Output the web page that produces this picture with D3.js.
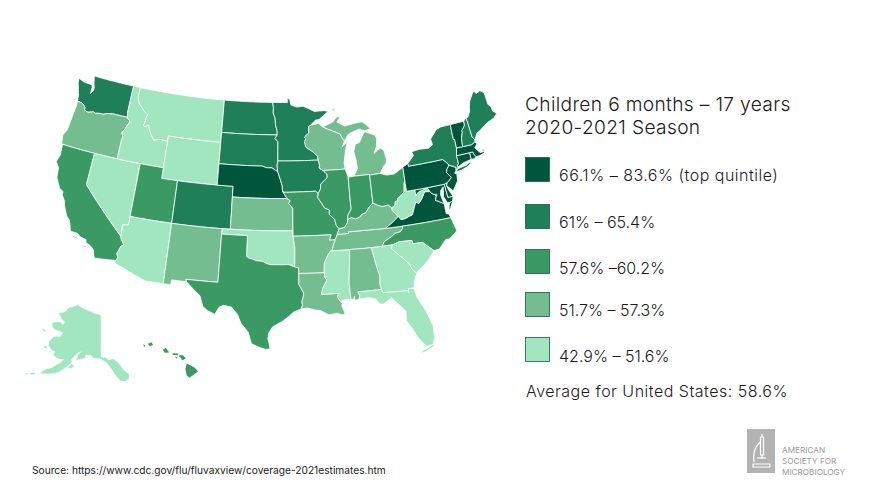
<!DOCTYPE html>
<html lang="en">
<head>
<meta charset="UTF-8">
<title>Children 6 months - 17 years, 2020-2021 Season</title>
<script src="https://d3js.org/d3.v7.min.js"></script>
<style>
  html, body { margin: 0; background: #fff; }
  text { font-family: Inter, "Open Sans", sans-serif; font-weight: 300; fill: #1a1a1a; }
  .state { stroke: #fff; stroke-linejoin: round; }
</style>
</head>
<body>
<svg id="chart" width="874" height="492"></svg>
<script>
const titleLines = ["Children 6 months – 17 years", "2020-2021 Season"];
const binLabels = ["66.1% – 83.6% (top quintile)", "61% – 65.4%", "57.6% –60.2%", "51.7% – 57.3%", "42.9% – 51.6%"];
const binColors = ["#00563a", "#1f7f58", "#3b9a63", "#74bd90", "#a1e6be"];
const averageLabel = "Average for United States: 58.6%";
const sourceLabel = "Source: https://www.cdc.gov/flu/fluvaxview/coverage-2021estimates.htm";
const logoLines = ["AMERICAN", "SOCIETY FOR", "MICROBIOLOGY"];

// quintile bin per state, 0 = top
const stateBins = {
  NE:0,PA:0,VA:0,NJ:0,MD:0,DE:0,DC:0,VT:0,MA:0,CT:0,RI:0,
  WA:1,ND:1,SD:1,MN:1,IA:1,CO:1,NY:1,ME:1,NH:1,
  CA:2,UT:2,TX:2,MO:2,IL:2,IN:2,OH:2,NC:2,HI:2,
  OR:3,WI:3,MI:3,KS:3,NM:3,AR:3,LA:3,KY:3,TN:3,AL:3,
  ID:4,MT:4,WY:4,NV:4,AZ:4,OK:4,MS:4,GA:4,SC:4,FL:4,AK:4,WV:4
};

// simplified state outlines, "lon,lat" rings
const stateShapes = {
  WA:["-124.73,48.38 -123.9,48.17 -123.1,48.15 -122.75,48.15 -122.6,47.9 -122.6,47.3 -122.35,47.6 -122.3,47.9 -122.5,48.3 -122.76,49 -117.03,49 -117.04,46.42 -116.92,46 -118.98,46 -119.3,45.93 -119.6,45.92 -120.2,45.73 -120.65,45.74 -121.2,45.65 -121.5,45.72 -122.25,45.55 -122.75,45.65 -122.8,45.9 -123.15,46.15 -123.43,46.23 -124,46.27 -124.07,46.65 -124.1,46.9 -124.2,47 -124.35,47.35 -124.62,47.88"],
  OR:["-124,46.27 -123.43,46.23 -123.15,46.15 -122.8,45.9 -122.75,45.65 -122.25,45.55 -121.5,45.72 -121.2,45.65 -120.65,45.74 -120.2,45.73 -119.6,45.92 -119.3,45.93 -118.98,46 -116.92,46 -116.78,45.85 -116.55,45.75 -116.46,45.6 -116.67,45.32 -116.85,44.95 -117.2,44.45 -117.03,44.25 -116.95,44.1 -117.03,43.8 -117.03,42 -124.21,42 -124.36,42.1 -124.55,42.84 -124.2,43.4 -124.1,44.3 -124.05,45 -123.95,45.9"],
  CA:["-124.21,42 -120,42 -120,39 -114.63,35 -114.57,34.8 -114.14,34.3 -114.43,34.1 -114.72,33.4 -114.53,33 -114.72,32.72 -117.12,32.53 -117.25,32.85 -117.4,33.25 -117.9,33.6 -118.4,33.75 -118.5,34.03 -119.2,34.15 -119.6,34.4 -120.47,34.45 -120.63,34.9 -120.9,35.4 -121.3,35.7 -121.9,36.6 -122,36.95 -122.5,37.5 -122.5,37.8 -123,38 -123.7,38.9 -123.85,39.8 -124.35,40.3 -124.1,41 -124.2,41.75",
      "-120.05,34.05 -119.55,34.08 -119.52,33.97 -120.1,33.92", "-118.6,33.48 -118.35,33.42 -118.3,33.3 -118.5,33.33", "-118.6,33.05 -118.4,32.88 -118.33,32.82 -118.5,32.95"],
  NV:["-120,42 -114.04,42 -114.04,36.2 -114.75,36.1 -114.7,35.85 -114.63,35 -120,39"],
  ID:["-117.03,42 -111.05,42 -111.05,44.48 -111.5,44.55 -112.3,44.55 -112.85,44.37 -113.45,44.95 -113.95,45.7 -114.35,45.45 -114.55,45.56 -114.33,46.65 -114.9,46.9 -115.3,47.25 -115.7,47.45 -116.05,48 -116.05,49 -117.03,49 -117.04,46.42 -116.92,46 -116.78,45.85 -116.55,45.75 -116.46,45.6 -116.67,45.32 -116.85,44.95 -117.2,44.45 -117.03,44.25 -116.95,44.1 -117.03,43.8"],
  MT:["-116.05,49 -104.05,49 -104.05,45 -111.05,45 -111.05,44.48 -111.5,44.55 -112.3,44.55 -112.85,44.37 -113.45,44.95 -113.95,45.7 -114.35,45.45 -114.55,45.56 -114.33,46.65 -114.9,46.9 -115.3,47.25 -115.7,47.45 -116.05,48"],
  WY:["-111.05,45 -104.05,45 -104.05,41 -111.05,41"],
  UT:["-114.04,42 -111.05,42 -111.05,41 -109.05,41 -109.05,37 -114.04,37"],
  AZ:["-114.04,37 -109.05,37 -109.05,31.33 -111.07,31.33 -114.81,32.5 -114.72,32.72 -114.53,33 -114.72,33.4 -114.43,34.1 -114.14,34.3 -114.57,34.8 -114.63,35 -114.7,35.85 -114.75,36.1 -114.04,36.2"],
  CO:["-109.05,41 -102.05,41 -102.05,37 -109.05,37"],
  NM:["-109.05,37 -103,37 -103.04,36.5 -103.06,32 -106.62,32 -106.53,31.78 -108.21,31.78 -108.21,31.33 -109.05,31.33"],
  ND:["-104.05,49 -97.23,49 -97.1,48.5 -97.13,48 -96.85,47.5 -96.8,46.9 -96.56,46.3 -96.56,45.94 -104.05,45.94"],
  SD:["-104.05,45.94 -96.56,45.94 -96.85,45.6 -96.45,45.3 -96.45,43.5 -96.55,43.1 -96.45,42.49 -96.7,42.6 -97.2,42.85 -97.85,42.85 -98.5,43 -104.05,43"],
  NE:["-104.05,43 -98.5,43 -97.85,42.85 -97.2,42.85 -96.7,42.6 -96.45,42.49 -96.1,41.7 -95.9,41.2 -95.85,40.7 -95.31,40 -102.05,40 -102.05,41 -104.05,41"],
  KS:["-102.05,40 -95.31,40 -94.9,39.8 -95.1,39.55 -94.61,39.1 -94.62,37 -102.05,37"],
  OK:["-103,37 -94.62,37 -94.62,36.5 -94.43,35.4 -94.48,33.64 -95.2,33.87 -95.8,33.85 -96.6,33.85 -97.2,33.85 -97.7,33.95 -98.1,34.13 -98.9,34.2 -99.2,34.3 -99.7,34.4 -100,34.56 -100,36.5 -103.04,36.5"],
  TX:["-103.04,36.5 -100,36.5 -100,34.56 -99.7,34.4 -99.2,34.3 -98.9,34.2 -98.1,34.13 -97.7,33.95 -97.2,33.85 -96.6,33.85 -95.8,33.85 -95.2,33.87 -94.48,33.64 -94.04,33.55 -94.04,33.02 -94.04,31.99 -93.55,31.2 -93.55,31 -93.75,30.4 -93.7,30.05 -93.85,29.7 -94.7,29.4 -95.2,29 -96,28.5 -96.9,28.05 -97.3,27.5 -97.4,26.9 -97.15,25.96 -97.6,25.9 -98.2,26.05 -99.1,26.4 -99.5,27.5 -100.3,28.3 -100.7,29.1 -101.4,29.77 -102.3,29.88 -102.7,29.7 -103.15,28.98 -104,29.3 -104.5,29.65 -104.9,30.6 -105.6,31.08 -106.53,31.78 -106.62,32 -103.06,32"],
  MN:["-97.23,49 -95.15,49 -95.15,49.38 -94.82,49.32 -94.65,48.75 -93.8,48.55 -92.95,48.62 -92,48.3 -91.4,48.07 -90.75,48.1 -90,48.1 -89.5,48 -90.8,47.3 -91.3,47.25 -92.1,46.75 -92.29,46.66 -92.29,46.08 -92.9,45.7 -92.75,45.55 -92.88,45.2 -92.75,44.75 -91.95,44.35 -91.25,43.85 -91.22,43.5 -96.45,43.5 -96.45,45.3 -96.85,45.6 -96.56,45.94 -96.56,46.3 -96.8,46.9 -96.85,47.5 -97.13,48 -97.1,48.5"],
  IA:["-96.45,43.5 -91.22,43.5 -91.05,43 -91.15,42.75 -90.65,42.5 -90.15,42.1 -90.2,41.8 -91.05,41.25 -91.1,40.8 -91.42,40.38 -91.73,40.61 -95.77,40.58 -95.85,40.7 -95.9,41.2 -96.1,41.7 -96.45,42.49 -96.55,43.1"],
  MO:["-95.77,40.58 -91.73,40.61 -91.42,40.38 -91.5,40 -91,39.4 -90.7,39 -90.15,38.8 -90.2,38.4 -89.6,37.9 -89.45,37.35 -89.15,37 -89.4,36.5 -89.7,36 -90.37,36 -90.15,36.5 -94.62,36.5 -94.62,37 -94.61,39.1 -95.1,39.55 -94.9,39.8 -95.31,40 -95.85,40.7"],
  AR:["-94.62,36.5 -90.15,36.5 -90.37,36 -89.7,36 -89.95,35.5 -90.07,35.13 -90.3,35 -90.6,34.7 -91.1,33.9 -91.17,33 -94.04,33.02 -94.04,33.55 -94.48,33.64 -94.43,35.4"],
  LA:["-94.04,33.02 -91.17,33 -91.1,32.5 -90.9,32.3 -91.4,31.6 -91.6,31 -89.73,31 -89.85,30.65 -89.55,30.2 -89.4,30.05 -89.45,29.8 -89.15,29.05 -89.4,28.95 -90,29.15 -90.9,29.05 -91.8,29.5 -92.3,29.55 -93.2,29.77 -93.85,29.7 -93.7,30.05 -93.75,30.4 -93.55,31 -93.55,31.2 -94.04,31.99"],
  MS:["-90.3,35 -88.2,35 -88.1,34.9 -88.47,31.9 -88.4,30.35 -89,30.4 -89.55,30.2 -89.85,30.65 -89.73,31 -91.6,31 -91.4,31.6 -90.9,32.3 -91.1,32.5 -91.17,33 -91.1,33.9 -90.6,34.7"],
  TN:["-90.3,35 -90.07,35.13 -89.95,35.5 -89.7,36 -89.4,36.5 -88.07,36.5 -88.07,36.65 -86.5,36.65 -83.68,36.6 -81.68,36.59 -81.7,36.35 -82,36.1 -82.6,36.03 -83.1,35.77 -84,35.4 -84.32,34.99 -85.6,34.98 -88.2,35"],
  KY:["-89.4,36.5 -89.15,37 -88.5,37.1 -88.1,37.5 -88.03,37.8 -87.6,37.95 -87.1,37.8 -86.6,37.9 -86.3,38.15 -85.8,38.27 -85.4,38.7 -84.8,39.1 -84.3,38.85 -83.7,38.65 -83,38.73 -82.6,38.42 -82.6,38.17 -82,37.55 -81.97,37.54 -82.7,37.1 -83.68,36.6 -86.5,36.65 -88.07,36.65 -88.07,36.5"],
  VA:["-83.68,36.6 -81.68,36.59 -75.87,36.55 -76,36.92 -76.3,37 -76.3,37.55 -76.3,37.95 -76.95,38.3 -77.25,38.4 -77.05,38.8 -77.12,38.93 -77.5,39.1 -77.72,39.32 -78.35,39.4 -78.87,38.77 -79.3,38.42 -79.65,38.6 -80.3,37.5 -81.2,37.25 -81.68,37.2 -81.97,37.54 -82.7,37.1",
      "-75.95,37.15 -75.65,37.95 -75.25,38.03 -75.6,37.5"],
  WV:["-82.6,38.42 -82.2,38.6 -82.1,38.95 -81.75,39 -81.75,39.2 -81.4,39.35 -80.85,39.7 -80.65,40.6 -80.52,40.64 -80.52,39.72 -79.48,39.72 -79.48,39.2 -79.1,39.47 -78.45,39.6 -78.2,39.68 -77.85,39.6 -77.72,39.32 -78.35,39.4 -78.87,38.77 -79.3,38.42 -79.65,38.6 -80.3,37.5 -81.2,37.25 -81.68,37.2 -81.97,37.54 -82,37.55 -82.6,38.17"],
  MD:["-79.48,39.72 -75.79,39.72 -75.7,38.46 -75.05,38.45 -75.25,38.03 -75.65,37.95 -75.9,38 -76.2,38.6 -76.1,39 -76,39.5 -76.4,39.2 -76.5,38.8 -76.4,38.3 -76.3,37.95 -76.95,38.3 -77.25,38.4 -77.05,38.8 -77.12,38.93 -77.5,39.1 -77.72,39.32 -77.85,39.6 -78.2,39.68 -78.45,39.6 -79.1,39.47 -79.48,39.2"],
  DE:["-75.79,39.72 -75.42,39.8 -75.55,39.5 -75.4,39.05 -75.05,38.45 -75.7,38.46"],
  DC:["-77.12,38.93 -77.04,39 -76.91,38.89 -77.04,38.79"],
  PA:["-80.52,41.98 -79.76,42.27 -79.76,42 -75.35,42 -75.05,41.75 -74.7,41.36 -75.13,40.97 -75.2,40.7 -74.75,40.2 -75.1,39.95 -75.42,39.8 -75.79,39.72 -80.52,39.72"],
  NJ:["-74.7,41.36 -73.9,41 -74.05,40.65 -74.25,40.5 -74,40.45 -74.1,39.75 -74.9,38.93 -75.15,39.2 -75.55,39.5 -75.42,39.8 -75.1,39.95 -74.75,40.2 -75.2,40.7 -75.13,40.97"],
  NY:["-79.76,42.27 -78.9,42.9 -79.05,43.27 -78,43.37 -76.8,43.3 -76.2,43.55 -76.3,44.1 -75.3,44.85 -74.7,45 -73.35,45.01 -73.4,44 -73.4,43.6 -73.25,43.55 -73.28,42.75 -73.5,42.05 -73.5,41.3 -73.73,41.1 -73.65,41 -73.8,40.8 -73.95,40.75 -73.9,41 -74.7,41.36 -75.05,41.75 -75.35,42 -79.76,42",
      "-74.03,40.6 -73.75,40.85 -72.6,40.98 -72.2,41.13 -71.87,41.07 -72.5,40.82 -73.3,40.63"],
  CT:["-73.5,42.05 -71.8,42.02 -71.8,41.4 -72.9,41.25 -73.65,41 -73.73,41.1 -73.5,41.3"],
  RI:["-71.8,42.02 -71.38,42.02 -71.33,41.8 -71.12,41.5 -71.5,41.37 -71.8,41.4"],
  MA:["-73.5,42.05 -73.28,42.75 -72.46,42.73 -71.3,42.7 -70.8,42.87 -70.6,42.65 -71,42.35 -70.7,42 -70.5,41.78 -70,41.78 -70.25,42.07 -69.95,41.95 -69.97,41.65 -70.65,41.53 -71.12,41.5 -71.33,41.8 -71.38,42.02"],
  VT:["-73.35,45.01 -71.5,45.01 -71.55,44.6 -72.05,44.2 -72.05,44.05 -72.35,43.5 -72.46,42.73 -73.28,42.75 -73.25,43.55 -73.4,43.6 -73.4,44"],
  NH:["-71.5,45.01 -71.08,45.3 -71.03,44.65 -70.98,43.4 -70.7,43.07 -70.8,42.87 -71.3,42.7 -72.46,42.73 -72.35,43.5 -72.05,44.05 -72.05,44.2 -71.55,44.6"],
  ME:["-71.08,45.3 -70.85,45.25 -70.4,45.75 -70.25,46.2 -70,46.7 -69.23,47.45 -69.05,47.43 -68.9,47.2 -68.3,47.35 -67.8,47.07 -67.78,45.9 -67.45,45.6 -67.45,45.2 -67,44.85 -67.6,44.5 -68.5,44.3 -69,44.1 -69.8,43.75 -70.25,43.6 -70.7,43.07 -70.98,43.4 -71.03,44.65"],
  MI:["-86.82,41.76 -84.8,41.76 -84.8,41.7 -83.45,41.73 -83.15,42.05 -82.9,42.35 -82.5,42.6 -82.42,43 -82.6,43.85 -83,44.07 -83.3,43.95 -83.9,43.65 -83.45,44.3 -83.3,45 -83.5,45.35 -84.75,45.78 -85,45.6 -85.5,45 -85.6,44.85 -86.2,44.7 -86.5,44.05 -86.3,43.2 -86.25,42.4",
      "-90.42,46.57 -89,46.95 -88.4,47.4 -87.8,47.45 -88.4,46.95 -87.4,46.5 -86.2,46.65 -85,46.75 -84.5,46.45 -84,46 -84.75,45.87 -85.5,46.08 -86.5,45.85 -87,45.7 -87.6,45.1 -87.85,45.35 -88.1,45.8 -89.1,46.13",
      "-89.2,48 -88.45,48.3 -88.6,48.05"],
  WI:["-92.1,46.75 -90.9,46.95 -90.42,46.57 -89.1,46.13 -88.1,45.8 -87.85,45.35 -87.6,45.1 -88,44.55 -87.4,44.9 -87.1,45.25 -87.5,44.4 -87.75,43.6 -87.9,43 -87.8,42.49 -90.65,42.5 -91.15,42.75 -91.05,43 -91.22,43.5 -91.25,43.85 -91.95,44.35 -92.75,44.75 -92.88,45.2 -92.75,45.55 -92.9,45.7 -92.29,46.08 -92.29,46.66"],
  IL:["-90.65,42.5 -87.8,42.49 -87.53,41.7 -87.53,39.35 -87.5,38.75 -87.95,38.2 -88.03,37.8 -88.1,37.5 -88.5,37.1 -89.15,37 -89.45,37.35 -89.6,37.9 -90.2,38.4 -90.15,38.8 -90.7,39 -91,39.4 -91.5,40 -91.42,40.38 -91.1,40.8 -91.05,41.25 -90.2,41.8 -90.15,42.1"],
  IN:["-87.53,41.7 -86.82,41.76 -84.8,41.76 -84.8,39.1 -85.4,38.7 -85.8,38.27 -86.3,38.15 -86.6,37.9 -87.1,37.8 -87.6,37.95 -88.03,37.8 -87.95,38.2 -87.5,38.75 -87.53,39.35"],
  OH:["-84.8,41.7 -83.45,41.73 -82.7,41.5 -81.7,41.5 -80.52,41.98 -80.52,40.64 -80.65,40.6 -80.85,39.7 -81.4,39.35 -81.75,39.2 -81.75,39 -82.1,38.95 -82.2,38.6 -82.6,38.42 -83,38.73 -83.7,38.65 -84.3,38.85 -84.8,39.1"],
  NC:["-81.68,36.59 -75.87,36.55 -75.5,35.25 -76.5,34.65 -77,34.65 -77.9,33.9 -78.55,33.86 -79.67,34.8 -80.8,34.82 -80.8,35.1 -81.05,35.15 -82.3,35.2 -83.1,35 -84.32,34.99 -84,35.4 -83.1,35.77 -82.6,36.03 -82,36.1 -81.7,36.35"],
  SC:["-83.1,35 -82.3,35.2 -81.05,35.15 -80.8,35.1 -80.8,34.82 -79.67,34.8 -78.55,33.86 -79.2,33.2 -79.9,32.7 -80.7,32.25 -80.87,32.03 -81.4,32.6 -81.5,33 -82,33.5 -82.6,34 -83.35,34.7"],
  GA:["-85.6,34.98 -84.32,34.99 -83.1,35 -83.35,34.7 -82.6,34 -82,33.5 -81.5,33 -81.4,32.6 -80.87,32.03 -81.2,31.5 -81.45,30.72 -82.05,30.75 -82.05,30.36 -82.2,30.57 -84.86,30.7 -85,31 -85.1,31.55 -85,32.3 -85.18,32.87"],
  AL:["-88.2,35 -85.6,34.98 -85.18,32.87 -85,32.3 -85.1,31.55 -85,31 -87.6,31 -87.4,30.65 -87.52,30.3 -88,30.23 -88,30.65 -88.1,30.35 -88.4,30.35 -88.47,31.9 -88.1,34.9"],
  FL:["-87.6,31 -85,31 -84.86,30.7 -82.2,30.57 -82.05,30.36 -82.05,30.75 -81.45,30.72 -81.25,29.8 -80.55,28.45 -80.05,26.9 -80.13,25.75 -80.4,25.2 -81.1,25.13 -81.8,26.1 -82.2,26.9 -82.75,27.8 -82.65,28.7 -83.4,29.5 -84,30.1 -85,29.6 -85.35,29.68 -85.7,30.15 -86.5,30.38 -87.52,30.3 -87.4,30.65",
      "-81.9,24.5 -81.2,24.65 -80.3,25.05 -80.2,25.3 -80.95,24.95 -81.4,24.82"],
  AK:["-141,69.65 -141,60.3 -139,60.2 -137.5,59.6 -135.5,59.8 -133.5,58.9 -131.5,57 -129.8,56 -130,55 -131.5,54.6 -133.5,54.8 -135,56 -136.8,57.8 -138.5,59 -140,59.6 -142,60 -144,60 -146,60.7 -148,60.6 -148,60 -150,59.5 -151.8,59.2 -151.3,60.5 -150,61.2 -151.5,61 -152.5,60.2 -153.5,59.5 -154.2,59 -153.5,58.7 -155,57.5 -157,56.3 -159,55.3 -161,54.9 -163,54.5 -164.8,54.4 -163,55.6 -161,56.3 -160,57 -158,58 -157.2,58.8 -158.7,58.6 -160,58.7 -162,59 -161.8,60 -163.5,60 -165.2,60.6 -166,61.6 -165,62.6 -164.5,63 -161.5,63.5 -161,64.4 -163,64.5 -165,64.5 -166.5,64.7 -168.1,65.6 -166.2,66.2 -164,66.5 -162,66.1 -161.8,66.9 -163.7,67.2 -166.8,68.3 -163.5,69 -162,70.2 -160,70.6 -156.6,71.35 -152.2,70.8 -148,70.4 -145,70",
      "-154.7,57.4 -153.3,58.1 -152.2,57.8 -153.6,57", "-167.5,60.2 -166,60.4 -165.6,59.9 -166.9,59.9", "-171.7,63.6 -170.5,63.7 -168.8,63.2 -170.2,63.2",
      "-168.2,53.5 -166.5,54 -166.3,53.6 -167.8,53.2", "-170,52.9 -169,53.3 -168.8,52.9"],
  HI:["-155.9,20.25 -155.1,19.85 -154.8,19.5 -155.65,18.92 -155.9,19.1 -156.05,19.75",
      "-156.7,20.95 -156.6,21.05 -156.25,21 -156,20.75 -156.35,20.55 -156.5,20.8", "-157.3,21.22 -156.75,21.2 -156.8,21.03 -157.3,21.05", "-157.05,20.92 -156.83,20.85 -156.95,20.7",
      "-158.28,21.55 -158,21.73 -157.65,21.3 -158.1,21.27", "-159.8,22.1 -159.4,22.25 -159.27,22 -159.6,21.87", "-160.27,22.02 -160.05,21.98 -160.1,21.78"]
};

const svg = d3.select("#chart");

// long borders follow parallels, so add points before projecting
function densify(ring) {
  const out = [];
  ring.forEach((p, i) => {
    const q = ring[(i + 1) % ring.length];
    const n = Math.max(Math.ceil(Math.max(Math.abs(q[0] - p[0]), Math.abs(q[1] - p[1]))), 1);
    for (let k = 0; k < n; k++) {
      out.push([p[0] + (q[0] - p[0]) * k / n, p[1] + (q[1] - p[1]) * k / n]);
    }
  });
  out.push(out[0].slice());
  return out;
}

function toFeature(code) {
  const polys = stateShapes[code].map(s => {
    let ring = densify(s.split(" ").map(c => c.split(",").map(Number)));
    if (d3.geoArea({ type: "Polygon", coordinates: [ring] }) > 2 * Math.PI) ring = ring.reverse();
    return [ring];
  });
  return { type: "Feature", id: code, geometry: { type: "MultiPolygon", coordinates: polys } };
}

const features = Object.keys(stateShapes).map(toFeature);
const lower48 = features.filter(f => f.id !== "AK" && f.id !== "HI");
const alaska = features.filter(f => f.id === "AK");
const hawaii = features.filter(f => f.id === "HI");

const mainProj = d3.geoConicEqualArea().rotate([96, 0]).center([-0.6, 38.7]).parallels([29.5, 45.5])
  .fitExtent([[55, 76], [498, 354]], { type: "FeatureCollection", features: lower48 });
// fit Alaska on its mainland ring only, the small islands just fall where they fall
const akMainland = { type: "Polygon", coordinates: alaska[0].geometry.coordinates[0] };
const akProj = d3.geoConicEqualArea().rotate([141, 0]).center([0, 60]).parallels([55, 65])
  .fitExtent([[33, 305], [136, 381]], akMainland);
const hiProj = d3.geoConicEqualArea().rotate([157, 0]).center([-3, 19.9]).parallels([8, 18])
  .fitExtent([[143, 342], [198, 378]], { type: "FeatureCollection", features: hawaii });

const color = d3.scaleOrdinal().domain(d3.range(binColors.length)).range(binColors);

function drawStates(list, proj, strokeWidth) {
  svg.append("g").selectAll("path").data(list).enter().append("path")
    .attr("class", "state")
    .attr("d", d3.geoPath(proj))
    .attr("fill", d => color(stateBins[d.id]))
    .style("stroke-width", strokeWidth);
}
drawStates(lower48, mainProj, 0.8);
drawStates(alaska, akProj, 0.2);
drawStates(hawaii, hiProj, 0);

// legend
const titleY = [111, 134];
svg.selectAll(".title").data(titleLines).enter().append("text")
  .attr("x", 525).attr("y", (d, i) => titleY[i])
  .attr("font-size", 19.2).attr("letter-spacing", 0.33).text(d => d);

const swatchTop = [157, 204, 249, 292, 337];
const labelBase = [181, 228, 274, 316, 362];
const legend = svg.append("g");
legend.selectAll("rect").data(binLabels).enter().append("rect")
  .attr("x", 525.5).attr("y", (d, i) => swatchTop[i] + 0.5)
  .attr("width", 24).attr("height", 24)
  .attr("fill", (d, i) => color(i))
  .attr("stroke", "#0f5f42").attr("stroke-width", 0.8);
legend.selectAll("text").data(binLabels).enter().append("text")
  .attr("x", 559).attr("y", (d, i) => labelBase[i])
  .attr("font-size", 16).attr("letter-spacing", (d, i) => i === 0 ? 0.5 : 0).text(d => d);

svg.append("text").attr("x", 526).attr("y", 397).attr("font-size", 16).attr("letter-spacing", 0.5).text(averageLabel);
svg.append("text").attr("x", 32).attr("y", 474).attr("font-size", 10.2).style("font-weight", 400).text(sourceLabel);

// ASM logo
const logo = svg.append("g").attr("transform", "translate(747,429)");
logo.append("rect").attr("width", 28).attr("height", 44).attr("fill", "#b3b3b3");
const scope = logo.append("g").attr("fill", "none").attr("stroke", "#fff").attr("stroke-width", 1.2);
scope.append("path").attr("d", "M15 5V8M13.5 8H16.5V26H13.5ZM15 26V30");
scope.append("path").attr("d", "M13 13C7 19 6 27 7 33");
scope.append("path").attr("d", "M10 29H19");
scope.append("path").attr("d", "M6 35H23V38H6Z");
svg.selectAll(".logo-text").data(logoLines).enter().append("text")
  .attr("x", 782).attr("y", (d, i) => 453 + i * 11)
  .attr("font-size", 8.2).style("fill", "#9a9a9a").style("font-weight", 400)
  .text(d => d);
</script>
</body>
</html>
